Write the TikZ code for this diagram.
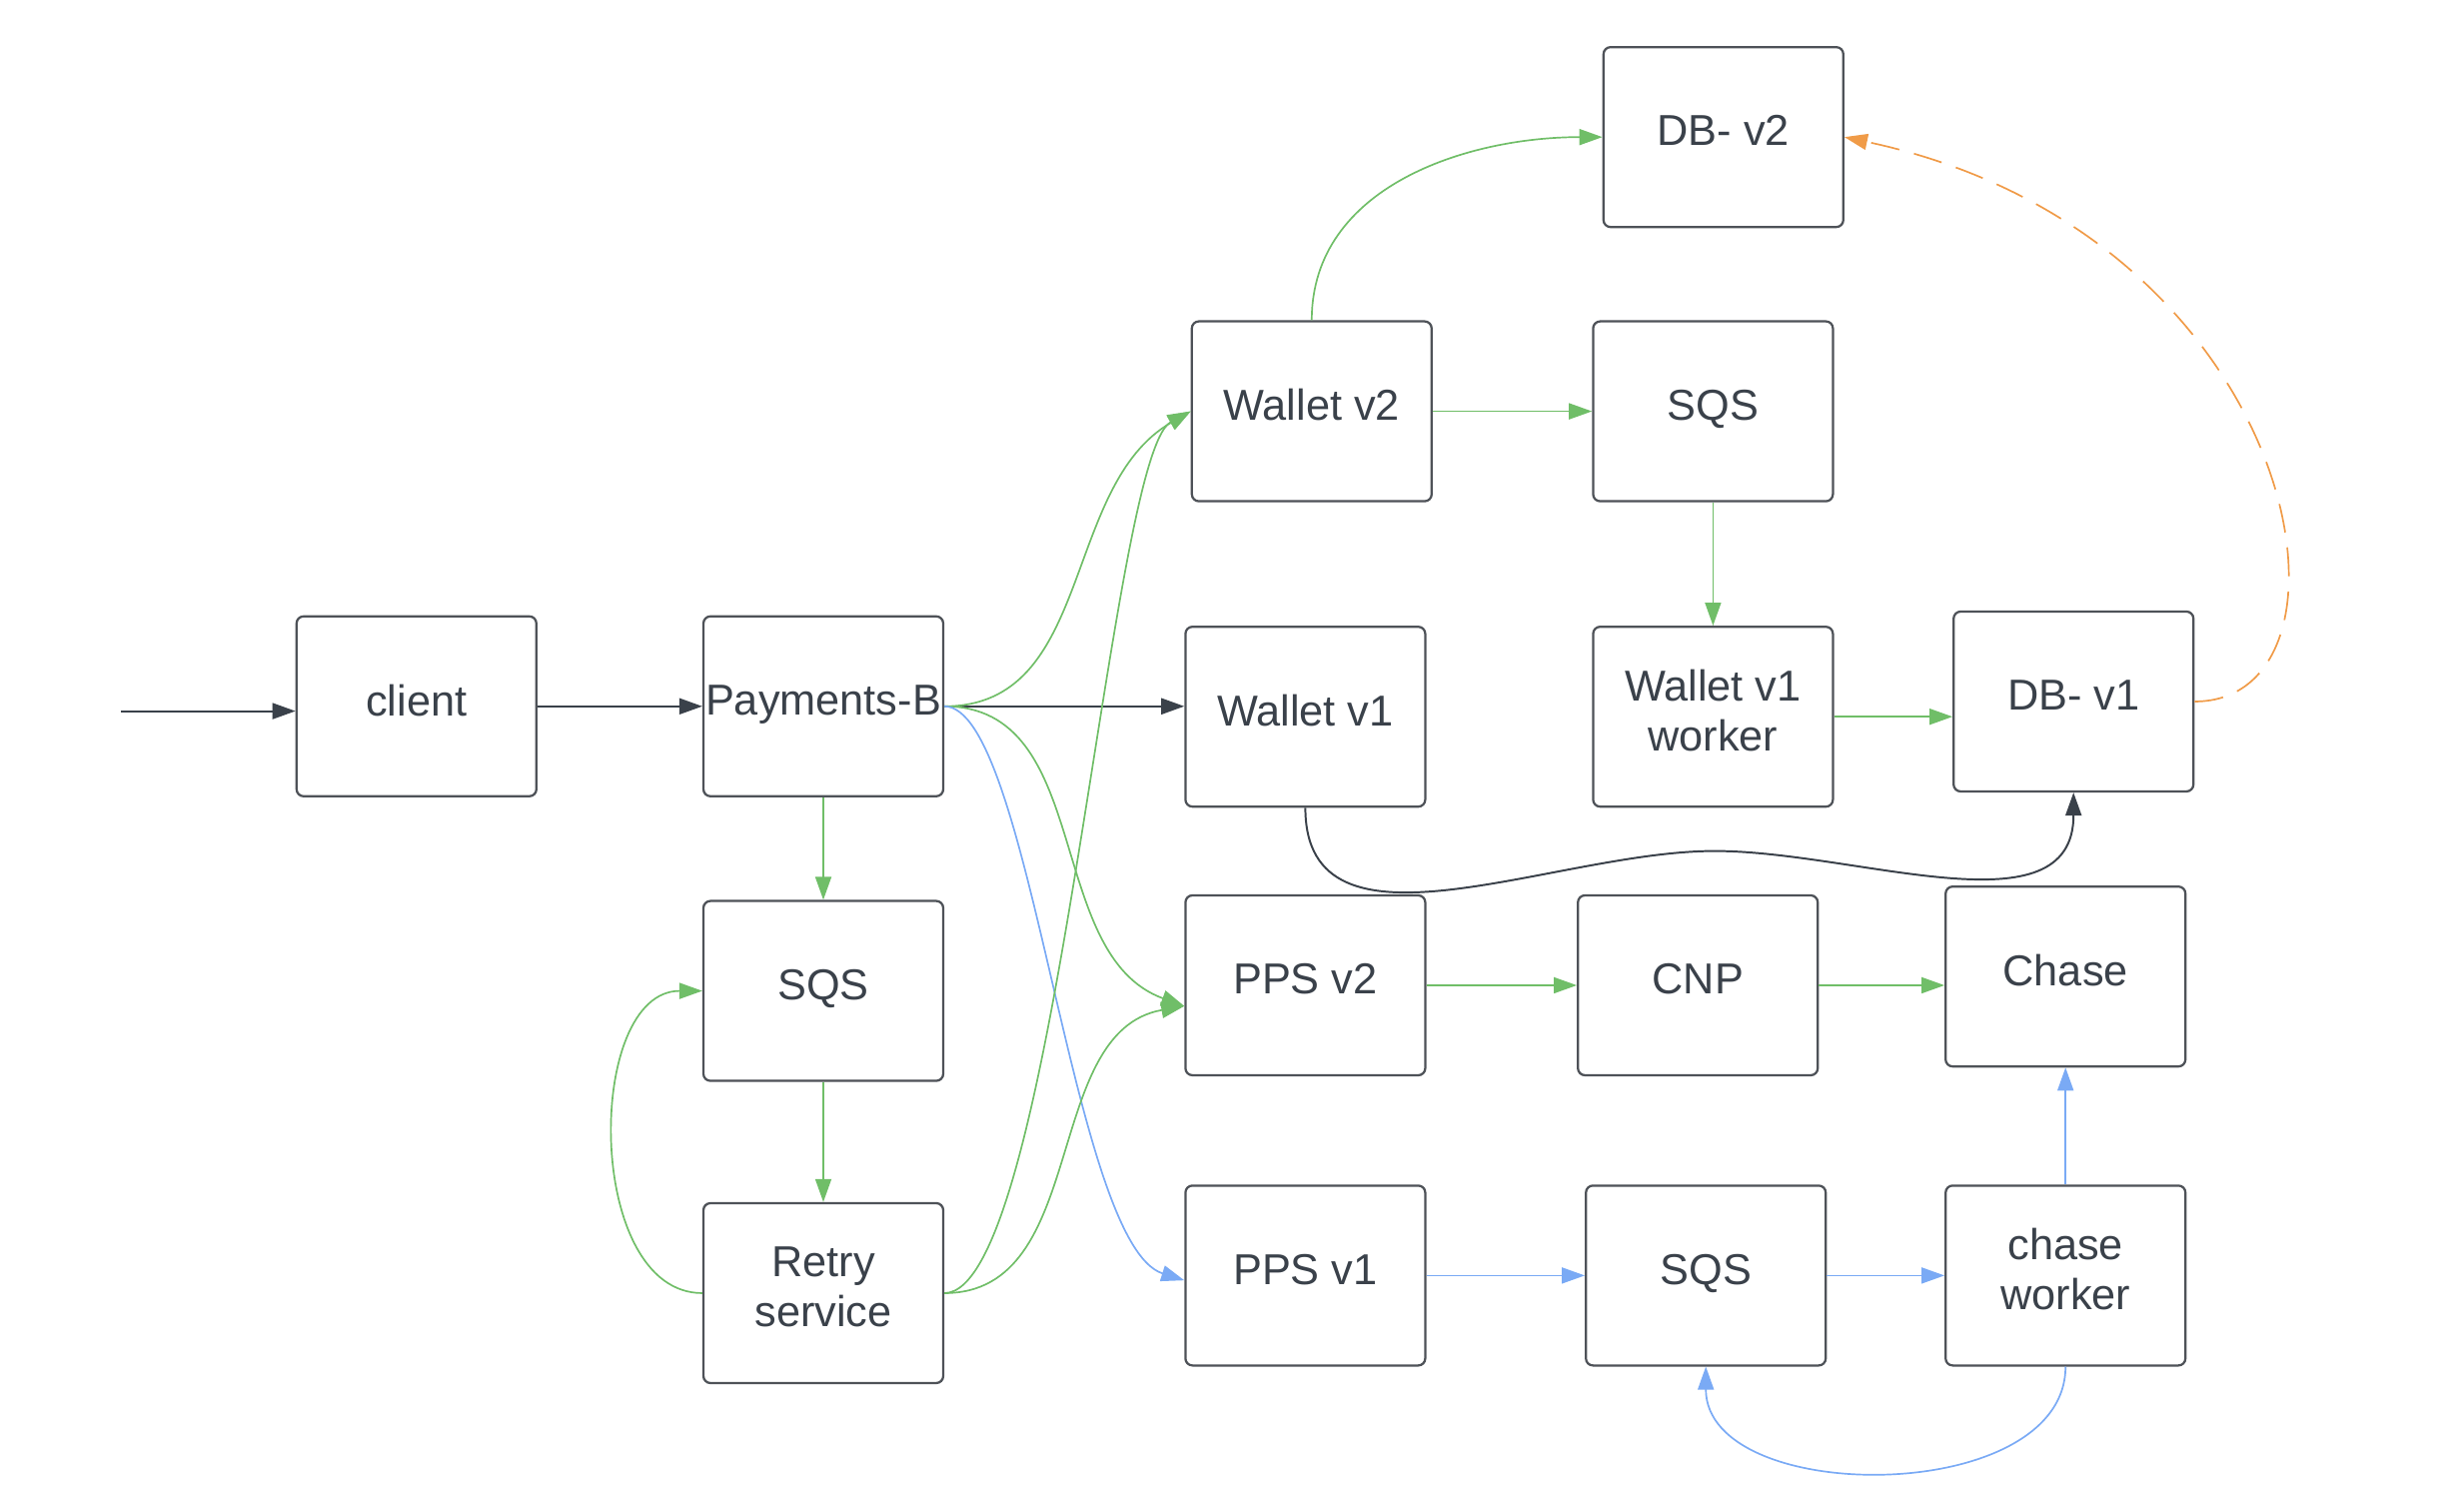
\documentclass[tikz,border=0pt]{standalone}
\usepackage{fontspec}
\setmainfont{Liberation Sans}
\usetikzlibrary{arrows.meta}
\definecolor{ink}{RGB}{58,65,74}
\definecolor{edge}{RGB}{78,82,88}
\definecolor{lgreen}{RGB}{112,190,104}
\definecolor{lblue}{RGB}{122,170,245}
\definecolor{lorange}{RGB}{240,155,72}
\begin{document}
\begin{tikzpicture}[
    box/.style={draw=edge, line width=0.8pt, rounded corners=2.5pt, minimum width=3cm, minimum height=2.25cm,
      inner sep=0pt, align=center, text=ink, text depth=0.45em, font=\fontsize{15.4}{17.9}\selectfont},
    tip/.style={-{Triangle[length=8.2pt,width=5.7pt]}},
    dk/.style={tip, draw=ink, line width=0.7pt},
    gr/.style={tip, draw=lgreen, line width=0.6pt},
    bl/.style={tip, draw=lblue, line width=0.6pt},
    og/.style={tip, draw=lorange, line width=0.6pt, dash pattern=on 10.3pt off 5.4pt}
  ]
  \useasboundingbox (0,0) rectangle (30.825,18.625);
  \coordinate (start) at (1.51,9.73);
  \node[box] (client) at (5.21,9.79) {client};
  \node[box] (payb) at (10.30,9.79) {Payments-B};
  \node[box] (sqsL) at (10.30,6.23) {SQS};
  \node[box] (retry) at (10.30,2.45) {Retry\\service};
  \node[box] (wv2) at (16.41,13.48) {Wallet v2};
  \node[box] (wv1) at (16.33,9.66) {Wallet v1};
  \node[box] (ppsv2) at (16.33,6.30) {PPS v2};
  \node[box] (ppsv1) at (16.33,2.67) {PPS v1};
  \node[box] (dbv2) at (21.56,16.91) {DB- v2};
  \node[box] (sqsT) at (21.43,13.48) {SQS};
  \node[box] (wv1w) at (21.43,9.66) {Wallet v1\\worker};
  \node[box] (dbv1) at (25.94,9.85) {DB- v1};
  \node[box] (cnp) at (21.24,6.30) {CNP};
  \node[box] (chase) at (25.84,6.41) {Chase};
  \node[box] (sqsB) at (21.34,2.67) {SQS};
  \node[box] (chasew) at (25.84,2.67) {chase\\worker};
  \coordinate (wave) at (21.45,7.98);

  \draw[dk] (start) -- (start -| client.west);
  \draw[dk] (client) -- (payb);
  \draw[dk] (payb.east) -- (payb.east -| wv1.west);
  \draw[gr] (payb) -- (sqsL);
  \draw[gr] (sqsL) -- (retry);
  \draw[gr] (retry.west) to[out=180,in=180] (sqsL.west);
  \draw[gr] (payb.east) to[out=0,in=210] (wv2.west);
  \draw[gr] (payb.east) to[out=0,in=160] ([yshift=-0.26cm]ppsv2.west);
  \draw[bl] (payb.east) .. controls +(1.08,0) and +(-1.42,0.45) .. ([yshift=-0.06cm]ppsv1.west);
  \draw[gr] (retry.east) .. controls +(1.38,0) and +(-1.02,-0.55) .. (wv2.west);
  \draw[gr] (retry.east) to[out=0,in=190] ([yshift=-0.26cm]ppsv2.west);
  \draw[gr] (wv2.north) to[out=90,in=180] (dbv2.west);
  \draw[gr] (wv2) -- (sqsT);
  \draw[gr] (sqsT) -- (wv1w);
  \draw[gr] (wv1w.east) -- (wv1w.east -| dbv1.west);
  \draw[og] (dbv1.east) to[out=0,in=-12,out distance=2.3cm,in distance=5.9cm] (dbv2.east);
  \draw[dk] (wv1.south) to[out=-90,in=180] (wave) to[out=0,in=-90] (dbv1.south);
  \draw[gr] (ppsv2) -- (cnp);
  \draw[gr] (cnp.east) -- (cnp.east -| chase.west);
  \draw[bl] (ppsv1) -- (sqsB);
  \draw[bl] (sqsB) -- (chasew);
  \draw[bl] (chasew) -- (chase);
  \draw[bl] (chasew.south) to[out=-90,in=-90] (sqsB.south);
\end{tikzpicture}
\end{document}
